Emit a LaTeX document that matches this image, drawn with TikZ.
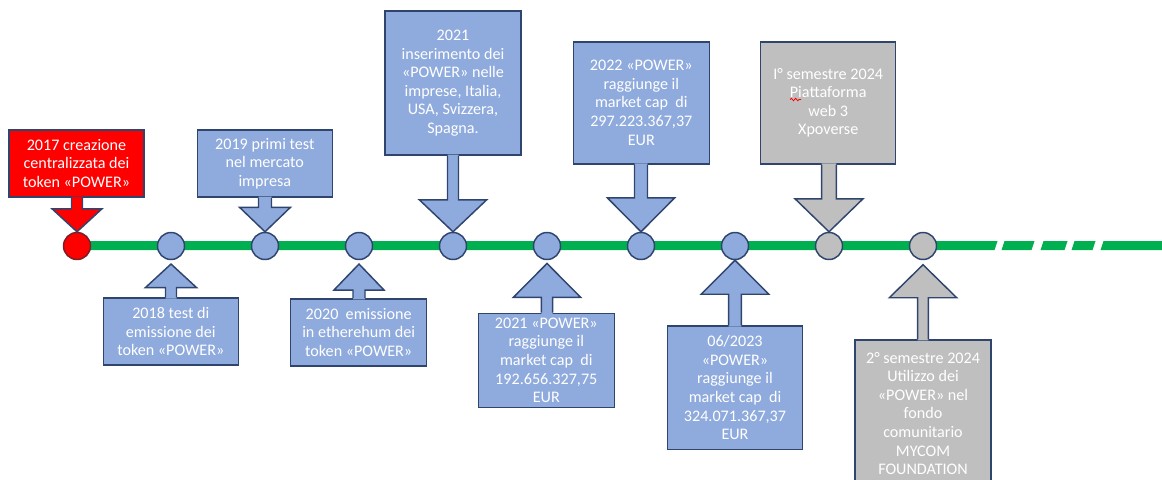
\documentclass[tikz,border=0pt]{standalone}
\usepackage{fontspec}
\setmainfont{Carlito}
\usetikzlibrary{calc,decorations.pathmorphing}
\definecolor{bfill}{HTML}{8FAADC}
\definecolor{gfill}{HTML}{BFBFBF}
\definecolor{rfill}{HTML}{FF0000}
\definecolor{edge}{HTML}{2F456E}
\definecolor{redge}{HTML}{7A1F2A}
\definecolor{tline}{HTML}{00B050}
\newlength\upx \setlength\upx{0.75pt}
\tikzset{
  x=0.75pt, y=-0.75pt,
  evbox/.style={rectangle, draw=edge, line width=1.1pt, text=white, align=center,
    font=\fontsize{12.1}{13.9}\selectfont, inner sep=0pt},
  dot/.style={circle, draw=edge, line width=1.1pt, minimum size=27\upx, inner sep=0pt},
  outl/.style={draw=edge, line width=1.1pt, line join=miter},
}
% #1 box, #2 circle, #3 colour, #4 shaft half width, #5 head half width, #6 head length, #7 gap
\newcommand\calldown[7]{%
  \fill[#3] ($(#2.north |- #1.south)+(-#4,-1.2)$) -- ($(#2.north)+(-#4,-#6-#7)$) -- ($(#2.north)+(-#5,-#6-#7)$)
    -- ($(#2.north)+(0,-#7)$) -- ($(#2.north)+(#5,-#6-#7)$) -- ($(#2.north)+(#4,-#6-#7)$)
    -- ($(#2.north |- #1.south)+(#4,-1.2)$) -- cycle;
  \draw[outl] ($(#2.north |- #1.south)+(-#4,0)$) -- ($(#2.north)+(-#4,-#6-#7)$) -- ($(#2.north)+(-#5,-#6-#7)$)
    -- ($(#2.north)+(0,-#7)$) -- ($(#2.north)+(#5,-#6-#7)$) -- ($(#2.north)+(#4,-#6-#7)$)
    -- ($(#2.north |- #1.south)+(#4,0)$);
}
\newcommand\callup[7]{%
  \fill[#3] ($(#2.south |- #1.north)+(-#4,1.2)$) -- ($(#2.south)+(-#4,#6+#7)$) -- ($(#2.south)+(-#5,#6+#7)$)
    -- ($(#2.south)+(0,#7)$) -- ($(#2.south)+(#5,#6+#7)$) -- ($(#2.south)+(#4,#6+#7)$)
    -- ($(#2.south |- #1.north)+(#4,1.2)$) -- cycle;
  \draw[outl] ($(#2.south |- #1.north)+(-#4,0)$) -- ($(#2.south)+(-#4,#6+#7)$) -- ($(#2.south)+(-#5,#6+#7)$)
    -- ($(#2.south)+(0,#7)$) -- ($(#2.south)+(#5,#6+#7)$) -- ($(#2.south)+(#4,#6+#7)$)
    -- ($(#2.south |- #1.north)+(#4,0)$);
}
\begin{document}
\begin{tikzpicture}
\useasboundingbox (0,0) rectangle (1162,479);
\clip (0,0) rectangle (1162,479);

% timeline
\coordinate (tstart) at (77,245.5);
\coordinate (tend) at (996,245.5);
\fill[tline] (tstart) ++(0,-4.5) -- ++(920.5,0) -- ++(-3,9) -- ($(tstart)+(0,4.5)$) -- cycle;
\foreach \a/\b in {1003/1033,1042/1066,1073/1094,1102/1170}{
  \fill[tline] (\a+1.5,241) -- (\b+1.5,241) -- (\b-1.5,250) -- (\a-1.5,250) -- cycle;
}

% milestones
\node[dot, fill=rfill, draw=redge] (c17) at (77,246) {};
\node[dot, fill=bfill] (c18) at (171,246) {};
\node[dot, fill=bfill] (c19) at (265,246) {};
\node[dot, fill=bfill] (c20) at (359,246) {};
\node[dot, fill=bfill] (c21a) at (453,246) {};
\node[dot, fill=bfill] (c21b) at (547,246) {};
\node[dot, fill=bfill] (c22) at (641,246) {};
\node[dot, fill=bfill] (c23) at (735,246) {};
\node[dot, fill=gfill] (cg1) at (829,246) {};
\node[dot, fill=gfill] (cg2) at (923,246) {};

% boxes above
\node[evbox, fill=rfill, minimum width=135\upx, minimum height=67\upx] (b17) at (76.5,163.5)
  {2017 creazione\\centralizzata dei\\token «POWER»};
\node[evbox, fill=bfill, minimum width=135\upx, minimum height=67\upx] (b19) at (264.8,163.7)
  {2019 primi test\\nel mercato\\impresa};
\node[evbox, fill=bfill, minimum width=136\upx, minimum height=144\upx] (b21a) at (453,83)
  {2021\\inserimento dei\\«POWER» nelle\\imprese, Italia,\\USA, Svizzera,\\Spagna.};
\node[evbox, fill=bfill, minimum width=136\upx, minimum height=122\upx] (b22) at (641.3,102.8)
  {2022 «POWER»\\raggiunge il\\market cap~~di\\297.223.367,37\\EUR};
\node[evbox, fill=gfill, minimum width=135\upx, minimum height=122\upx] (bg1) at (828.2,102.8)
  {I° semestre 2024\\Piattaforma\\web 3\\Xpoverse};

% boxes below
\node[evbox, fill=bfill, minimum width=135\upx, minimum height=67\upx] (b18) at (170.8,331.7)
  {2018 test di\\emissione dei\\token «POWER»};
\node[evbox, fill=bfill, minimum width=136\upx, minimum height=67\upx] (b20) at (358.7,332.3)
  {2020~~emissione\\in etherehum dei\\token «POWER»};
\node[evbox, fill=bfill, minimum width=136\upx, minimum height=94\upx] (b21b) at (546.3,360.3)
  {2021 «POWER»\\raggiunge il\\market cap~~di\\192.656.327,75\\EUR};
\node[evbox, fill=bfill, minimum width=135.4\upx, minimum height=123.3\upx] (b23) at (735,387.7)
  {06/2023\\«POWER»\\raggiunge il\\market cap~~di\\324.071.367,37\\EUR};
\node[evbox, fill=gfill, minimum width=136\upx, minimum height=147\upx] (bg2) at (923,413.5)
  {2° semestre 2024\\Utilizzo dei\\«POWER» nel\\fondo\\comunitario\\MYCOM\\FOUNDATION};

% spell-check squiggle under "Pi"
\coordinate (sq1) at (790,99.5);
\coordinate (sq2) at (801,99.5);
\draw[red, line width=0.6pt, decorate, decoration={snake, amplitude=0.9, segment length=3.2}] (sq1) -- (sq2);

% arrows
\calldown{b17}{c17}{rfill}{5.5}{25}{23}{0}
\calldown{b19}{c19}{bfill}{6.5}{25.5}{24.5}{0}
\calldown{b21a}{c21a}{bfill}{5.5}{33.7}{32}{0}
\calldown{b22}{c22}{bfill}{6.5}{33.7}{34}{0}
\calldown{bg1}{cg1}{gfill}{7.3}{34}{33}{0}
\callup{b18}{c18}{bfill}{5.5}{25.5}{23.5}{3.8}
\callup{b20}{c20}{bfill}{6}{25}{26}{3.8}
\callup{b21b}{c21b}{bfill}{5.7}{33.7}{34}{3.2}
\callup{b23}{c23}{bfill}{6.3}{33.8}{34}{0}
\callup{bg2}{cg2}{gfill}{5.3}{33.7}{33}{4.5}
\end{tikzpicture}
\end{document}
